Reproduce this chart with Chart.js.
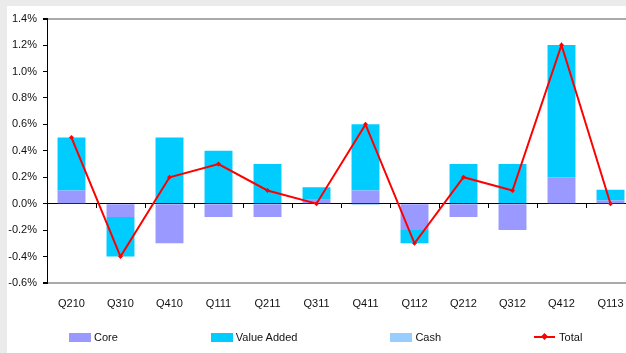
<!DOCTYPE html>
<html>
<head>
<meta charset="utf-8">
<script src="https://cdn.jsdelivr.net/npm/chart.js@4/dist/chart.umd.min.js"></script>
<style>
    html, body { margin: 0; padding: 0; }
    body { width: 626px; height: 353px; background: #ebebeb; overflow: hidden; position: relative; font-family: "Liberation Sans", Arial, sans-serif; }
    #panel { position: absolute; left: 7px; top: 6px; width: 640px; height: 347px; background: #fff; }
    #chart { position: absolute; left: 0; top: 0; }
    #legend { position: absolute; left: 62px; top: 324px; display: flex; gap: 93px; font-size: 11px; color: #111; }
    .item { display: flex; align-items: center; height: 14px; }
    .box { width: 22px; height: 9px; margin-right: 3px; }
    .mark { position: relative; width: 21px; height: 2px; background: #ff0000; margin-right: 4px; }
    .mark::after { content: ''; position: absolute; left: 8px; top: -2px; width: 5px; height: 5px; background: #ff0000; transform: rotate(45deg); }
</style>
</head>
<body>
<div id="panel">
    <canvas id="chart" width="640" height="347"></canvas>
    <div id="legend">
        <div class="item"><span class="box" style="background:#9999ff"></span>Core</div>
        <div class="item"><span class="box" style="background:#00ccff"></span>Value Added</div>
        <div class="item"><span class="box" style="background:#99ccff"></span>Cash</div>
        <div class="item"><span class="mark"></span>Total</div>
    </div>
</div>
<script>
const quarters   = ['Q210', 'Q310', 'Q410', 'Q111', 'Q211', 'Q311', 'Q411', 'Q112', 'Q212', 'Q312', 'Q412', 'Q113'];
const core       = [0.1, -0.1, -0.3, -0.1, -0.1, 0.03, 0.1, -0.2, -0.1, -0.2, 0.2, 0.025];
const valueAdded = [0.4, -0.3, 0.5, 0.4, 0.3, 0.095, 0.5, -0.1, 0.3, 0.3, 1.0, 0.08];
const cash       = [0, 0, 0, 0, 0, 0, -0.01, 0, 0, 0, 0, 0];
const total      = [0.5, -0.4, 0.2, 0.3, 0.1, 0.0, 0.6, -0.3, 0.2, 0.1, 1.2, 0.0];
const yTicks     = { min: -0.6, max: 1.4, step: 0.2 };

const FONT = { family: '"Liberation Sans", Arial, sans-serif', size: 11 };
const isEdge = v => Math.abs(v - yTicks.min) < 1e-6 || Math.abs(v - yTicks.max) < 1e-6;

new Chart(document.getElementById('chart'), {
    type: 'bar',
    data: {
        labels: quarters,
        datasets: [
            { label: 'Core',        data: core,       backgroundColor: '#9999ff', order: 1, stack: 'bars' },
            { label: 'Value Added', data: valueAdded, backgroundColor: '#00ccff', order: 1, stack: 'bars' },
            { label: 'Cash',        data: cash,       backgroundColor: '#99ccff', order: 1, stack: 'bars' },
            {
                label: 'Total', type: 'line', data: total, order: 0, stack: 'total',
                borderColor: '#ff0000', backgroundColor: '#ff0000', borderWidth: 2,
                pointStyle: 'rectRot', pointRadius: 2.5, pointBorderWidth: 0, tension: 0
            }
        ]
    },
    options: {
        responsive: false,
        animation: false,
        devicePixelRatio: 1,
        barPercentage: 0.57,
        categoryPercentage: 1,
        layout: { padding: { top: 12, right: 12, left: 0, bottom: 0 } },
        plugins: { legend: { display: false }, tooltip: { enabled: false } },
        scales: {
            x: {
                stacked: true,
                grid: { display: false },
                border: { display: false },
                ticks: { color: '#111', font: FONT, padding: 6, maxRotation: 0 },
                afterFit: s => { s.height = 70; }
            },
            // zero line with tick marks between the quarters
            x0: {
                type: 'category',
                position: { y: 0 },
                offset: true,
                grid: { offset: true, drawOnChartArea: false, drawTicks: true, tickLength: 4, color: '#000' },
                border: { color: '#000', width: 1 },
                ticks: { display: false }
            },
            y: {
                stacked: true,
                min: yTicks.min,
                max: yTicks.max,
                grid: {
                    color: c => isEdge(c.tick.value) ? '#aaaaaa' : 'rgba(0,0,0,0)',
                    lineWidth: c => isEdge(c.tick.value) ? 2 : 1,
                    tickColor: '#000',
                    tickLength: 4
                },
                border: { color: '#000', width: 1 },
                ticks: {
                    stepSize: yTicks.step,
                    color: '#111',
                    font: FONT,
                    padding: 6,
                    callback: v => v.toFixed(1) + '%'
                },
                afterFit: s => { s.width = 40; }
            }
        }
    }
});
</script>
</body>
</html>
